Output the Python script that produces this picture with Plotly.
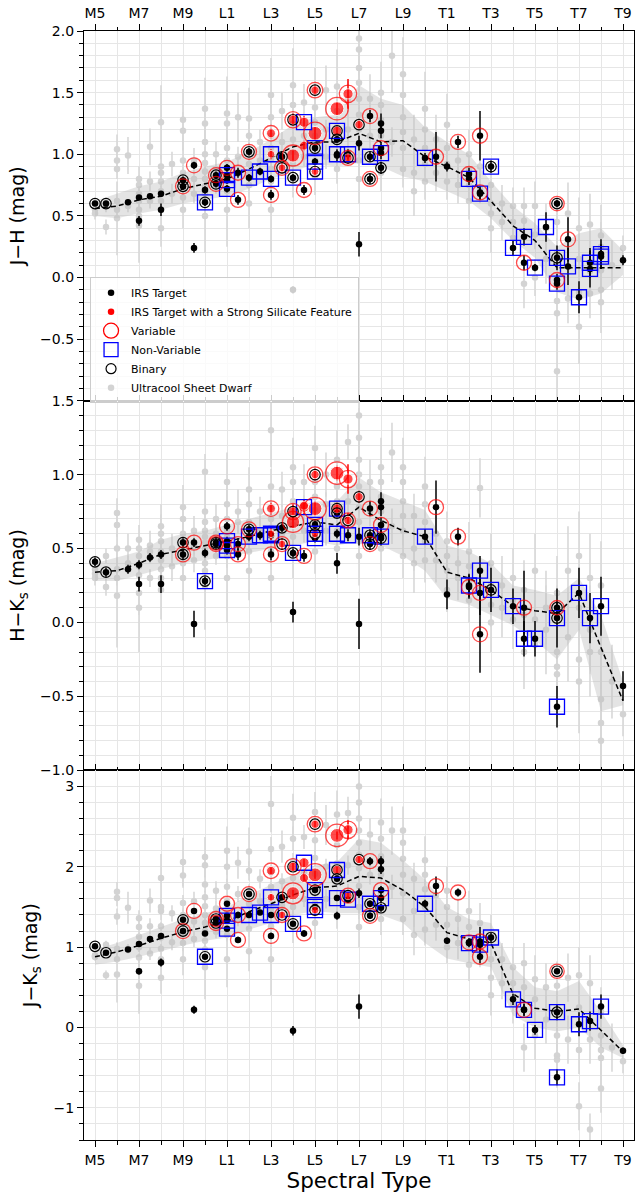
import numpy as np
import plotly.graph_objects as go
from plotly.subplots import make_subplots

# Numeric spectral types: M0 = 10, L0 = 20, T0 = 30
tick_names = {"15": "M5", "17": "M7", "19": "M9", "21": "L1", "23": "L3", "25": "L5",
              "27": "L7", "29": "L9", "31": "T1", "33": "T3", "35": "T5", "37": "T7", "39": "T9"}

# ---------------- Ultracool Sheet dwarfs ----------------
ucd_spt = ([15.0] * 3 + [15.5] * 2 + [16.0] * 6 + [16.5] * 2 + [17.0] * 7 + [17.5] * 3 +
           [18.0] * 8 + [18.5] * 2 + [19.0] * 7 + [19.5] * 3 + [20.0] * 11 + [20.5] * 3 +
           [21.0] * 8 + [21.5] * 3 + [22.0] * 7 + [22.5] * 2 + [23.0] * 8 + [23.5] * 3 +
           [24.0] * 7 + [24.5] * 3 + [25.0] * 7 + [25.5] * 3 + [26.0] * 6 + [26.5] * 3 +
           [27.0] * 10 + [27.5] * 2 + [28.0] * 6 + [28.5] * 2 + [29.0] * 6 + [29.5] * 3 +
           [30.0] * 5 + [30.5] * 2 + [31.0] * 4 + [31.5] * 2 + [32.0] * 4 + [32.5] * 2 +
           [33.0] * 4 + [33.5] * 2 + [34.0] * 3 + [34.5] * 3 + [35.0] * 3 + [35.5] * 2 +
           [36.0] * 5 + [36.5] * 2 + [37.0] * 4 + [37.5] * 3 + [38.0] * 5 + [38.5] * 1 + [39.0] * 1)

ucd_jh = [
    0.55, 0.60, 0.52,
    0.58, 0.41,
    0.55, 0.62, 0.95, 1.04, 0.48, 0.88,
    0.99, 0.58,
    0.55, 0.62, 0.68, 0.75, 0.80, 0.50, 0.42,
    1.06, 0.78, 0.62,
    1.26, 0.90, 0.78, 0.70, 0.62, 0.55, 0.40, 0.85,
    0.92, 0.68,
    1.28, 1.19, 0.95, 0.85, 0.72, 0.65, 0.55,
    0.95, 0.80, 0.68,
    1.37, 1.25, 1.10, 1.00, 0.93, 0.86, 0.80, 0.74, 0.68, 0.62, 0.50,
    1.00, 0.88, 0.74,
    1.33, 1.25, 1.05, 0.95, 0.88, 0.80, 0.70, 0.55,
    1.30, 0.98, 0.84,
    1.29, 1.15, 1.02, 0.92, 0.84, 0.75, 0.60,
    1.10, 0.95,
    1.48, 1.30, 1.15, 1.05, 0.96, 0.88, 0.78, 0.55,
    1.35, 1.10, 0.92,
    1.56, 1.40, 1.25, 1.12, 1.02, 0.92, 0.80,
    1.42, 1.15, 0.98,
    1.50, 1.38, 1.26, 1.15, 1.05, 0.95, 0.82,
    1.52, 1.20, 0.98,
    1.55, 1.35, 1.22, 1.10, 1.00, 0.88,
    1.45, 1.20, 1.02,
    1.94, 1.85, 1.70, 1.58, 1.45, 1.32, 1.20, 1.08, 0.95, 0.80,
    1.45, 1.15,
    1.50, 1.40, 1.28, 1.15, 1.02, 0.85,
    1.80, 1.10,
    1.65, 1.48, 1.30, 1.18, 1.05, 0.88,
    1.12, 0.85, 0.70,
    1.37, 1.20, 1.05, 0.92, 0.78,
    1.12, 0.85,
    1.24, 1.05, 0.92, 0.78,
    0.95, 0.75,
    1.00, 0.88, 0.75, 0.62,
    0.90, 0.72,
    0.75, 0.60, 0.52, 0.40,
    0.60, 0.45,
    0.58, 0.45, 0.32,
    0.58, 0.46, -0.05,
    0.58, 0.35, 0.00,
    0.40, 0.15,
    0.45, 0.20, -0.19, -0.29, -0.76,
    0.52, -0.17,
    0.40, 0.15, -0.12, -0.40,
    0.43, -0.13, 0.05,
    0.34, 0.06, -0.10, -0.20, 0.25,
    0.10,
    0.24,
]
ucd_jh_err = [
    0.03, 0.04, 0.05,
    0.05, 0.06,
    0.05, 0.06, 0.10, 0.12, 0.30, 0.08,
    0.15, 0.05,
    0.04, 0.05, 0.04, 0.08, 0.10, 0.10, 0.30,
    0.15, 0.08, 0.06,
    0.30, 0.10, 0.05, 0.04, 0.06, 0.06, 0.15, 0.06,
    0.10, 0.08,
    0.25, 0.15, 0.10, 0.06, 0.05, 0.08, 0.15,
    0.10, 0.06, 0.08,
    0.25, 0.12, 0.10, 0.06, 0.05, 0.05, 0.05, 0.06, 0.08, 0.10, 0.30,
    0.10, 0.08, 0.06,
    0.30, 0.20, 0.08, 0.06, 0.05, 0.05, 0.08, 0.30,
    0.20, 0.08, 0.06,
    0.25, 0.10, 0.06, 0.05, 0.06, 0.10, 0.20,
    0.10, 0.08,
    0.30, 0.15, 0.10, 0.06, 0.05, 0.06, 0.10, 0.35,
    0.15, 0.08, 0.08,
    0.30, 0.15, 0.08, 0.06, 0.05, 0.08, 0.15,
    0.15, 0.08, 0.08,
    0.20, 0.12, 0.08, 0.06, 0.06, 0.08, 0.15,
    0.20, 0.08, 0.10,
    0.30, 0.12, 0.08, 0.06, 0.08, 0.12,
    0.15, 0.10, 0.10,
    0.35, 0.20, 0.15, 0.10, 0.08, 0.06, 0.06, 0.08, 0.12, 0.20,
    0.20, 0.10,
    0.25, 0.12, 0.08, 0.08, 0.10, 0.15,
    0.30, 0.12,
    0.30, 0.15, 0.10, 0.08, 0.10, 0.15,
    0.20, 0.15, 0.20,
    0.30, 0.15, 0.10, 0.10, 0.15,
    0.20, 0.15,
    0.25, 0.15, 0.10, 0.15,
    0.20, 0.15,
    0.20, 0.12, 0.10, 0.15,
    0.20, 0.12,
    0.20, 0.10, 0.12, 0.20,
    0.15, 0.15,
    0.15, 0.10, 0.15,
    0.15, 0.12, 0.20,
    0.20, 0.12, 0.15,
    0.20, 0.20,
    0.20, 0.12, 0.15, 0.20, 0.30,
    0.25, 0.20,
    0.25, 0.15, 0.20, 0.30,
    0.25, 0.20, 0.20,
    0.25, 0.15, 0.20, 0.25, 0.20,
    0.20,
    0.10,
]
ucd_hk = [
    0.33, 0.30, 0.36,
    0.45, 0.24,
    0.30, 0.36, 0.66, 0.74, 0.18, 0.50,
    0.50, 0.40,
    0.32, 0.38, 0.45, 0.50, 0.56, 0.20, 0.10,
    0.52, 0.48, 0.30,
    0.60, 0.55, 0.48, 0.42, 0.36, 0.30, 0.22, 0.65,
    0.50, 0.38,
    0.78, 0.70, 0.60, 0.55, 0.45, 0.40, 0.30,
    0.62, 0.52, 0.42,
    0.75, 1.02, 0.68, 0.62, 0.58, 0.54, 0.50, 0.46, 0.40, 0.35, 0.25,
    0.70, 0.60, 0.45,
    0.95, 0.80, 0.70, 0.62, 0.58, 0.52, 0.45, 0.30,
    0.75, 0.68, 0.50,
    0.90, 0.80, 0.68, 0.62, 0.55, 0.48, 0.35,
    0.75, 0.62,
    1.30, 0.92, 0.78, 0.70, 0.64, 0.58, 0.48, 0.30,
    0.90, 0.72, 0.60,
    1.05, 0.95, 0.82, 0.74, 0.66, 0.58, 0.45,
    0.95, 0.78, 0.62,
    1.18, 0.95, 0.85, 0.76, 0.68, 0.60, 0.48,
    1.00, 0.80, 0.62,
    1.10, 0.92, 0.82, 0.72, 0.62, 0.50,
    1.22, 0.82, 0.65,
    1.40, 1.25, 1.10, 1.00, 0.92, 0.85, 0.78, 0.68, 0.55, 0.45,
    0.95, 0.75,
    1.05, 0.95, 0.85, 0.75, 0.65, 0.50,
    1.15, 0.65,
    1.05, 0.95, 0.82, 0.72, 0.62, 0.45,
    0.72, 0.50, 0.40,
    0.92, 0.80, 0.68, 0.55, 0.42,
    0.60, 0.42,
    0.55, 0.45, 0.35, 0.22,
    0.40, 0.30,
    0.48, 0.38, 0.28, 0.15,
    0.91, 0.22,
    0.40, 0.25, 0.12, 0.00,
    0.25, 0.10,
    0.30, 0.15, 0.02,
    0.22, 0.05, -0.20,
    0.35, 0.02, -0.15,
    0.10, -0.05,
    0.20, 0.05, -0.20, -0.35, -0.30,
    0.35, -0.10,
    0.45, 0.10, -0.25, -0.40,
    0.30, -0.05, -0.20,
    0.25, -0.20, -0.52, -0.68, -0.80,
    -0.40,
    -0.62,
]
ucd_hk_err = [
    0.03, 0.05, 0.05,
    0.05, 0.06,
    0.05, 0.06, 0.08, 0.10, 0.35, 0.10,
    0.10, 0.05,
    0.05, 0.05, 0.05, 0.08, 0.10, 0.15, 0.30,
    0.10, 0.08, 0.06,
    0.20, 0.10, 0.05, 0.05, 0.06, 0.08, 0.20, 0.08,
    0.10, 0.10,
    0.15, 0.10, 0.08, 0.06, 0.05, 0.08, 0.15,
    0.10, 0.06, 0.08,
    0.15, 0.12, 0.08, 0.06, 0.05, 0.05, 0.05, 0.06, 0.08, 0.10, 0.30,
    0.10, 0.08, 0.06,
    0.20, 0.15, 0.08, 0.06, 0.05, 0.05, 0.08, 0.30,
    0.15, 0.08, 0.06,
    0.15, 0.10, 0.06, 0.05, 0.06, 0.10, 0.20,
    0.10, 0.08,
    0.25, 0.12, 0.08, 0.06, 0.05, 0.06, 0.10, 0.30,
    0.12, 0.08, 0.08,
    0.20, 0.12, 0.08, 0.06, 0.05, 0.08, 0.15,
    0.12, 0.08, 0.08,
    0.15, 0.10, 0.08, 0.06, 0.06, 0.08, 0.15,
    0.15, 0.08, 0.10,
    0.20, 0.10, 0.08, 0.06, 0.08, 0.12,
    0.12, 0.10, 0.10,
    0.25, 0.20, 0.12, 0.10, 0.08, 0.06, 0.06, 0.08, 0.12, 0.20,
    0.15, 0.10,
    0.20, 0.10, 0.08, 0.08, 0.10, 0.15,
    0.20, 0.12,
    0.20, 0.12, 0.10, 0.08, 0.10, 0.15,
    0.15, 0.15, 0.20,
    0.20, 0.12, 0.10, 0.10, 0.15,
    0.15, 0.15,
    0.20, 0.12, 0.10, 0.15,
    0.20, 0.15,
    0.20, 0.10, 0.10, 0.15,
    0.20, 0.15,
    0.20, 0.12, 0.15, 0.20,
    0.20, 0.20,
    0.20, 0.15, 0.20,
    0.20, 0.20, 0.25,
    0.25, 0.20, 0.25,
    0.25, 0.30,
    0.25, 0.20, 0.25, 0.30, 0.35,
    0.30, 0.30,
    0.30, 0.25, 0.30, 0.35,
    0.30, 0.30, 0.30,
    0.30, 0.25, 0.30, 0.35, 0.30,
    0.25,
    0.15,
]
ucd_jk = [
    0.88, 0.90, 0.88,
    1.03, 0.65,
    0.85, 0.98, 1.61, 1.69, 0.66, 1.38,
    1.49, 0.98,
    0.87, 1.00, 1.13, 1.25, 1.36, 0.70, 0.52,
    1.58, 1.26, 0.92,
    1.86, 1.45, 1.26, 1.12, 0.98, 0.85, 0.62, 1.50,
    1.42, 1.06,
    2.06, 1.89, 1.55, 1.40, 1.17, 1.05, 0.85,
    1.57, 1.32, 1.10,
    2.12, 2.02, 1.78, 1.62, 1.51, 1.40, 1.30, 1.20, 1.08, 0.97, 0.75,
    1.70, 1.48, 1.19,
    2.20, 2.00, 1.75, 1.57, 1.46, 1.32, 1.15, 0.85,
    2.05, 1.66, 1.34,
    2.19, 1.95, 1.70, 1.54, 1.39, 1.23, 0.95,
    1.85, 1.57,
    2.78, 2.22, 1.93, 1.75, 1.60, 1.46, 1.26, 0.85,
    2.25, 1.82, 1.52,
    2.61, 2.35, 2.07, 1.86, 1.68, 1.50, 1.25,
    2.37, 1.93, 1.60,
    2.68, 2.33, 2.11, 1.91, 1.73, 1.55, 1.30,
    2.52, 2.00, 1.60,
    2.65, 2.27, 2.04, 1.82, 1.62, 1.38,
    2.67, 2.02, 1.67,
    3.00, 2.80, 2.60, 2.45, 2.30, 2.15, 1.98, 1.76, 1.50, 1.25,
    2.40, 1.90,
    2.55, 2.35, 2.13, 1.90, 1.67, 1.35,
    2.45, 1.75,
    2.45, 2.30, 2.10, 1.90, 1.67, 1.35,
    1.85, 1.45, 1.15,
    2.08, 1.90, 1.72, 1.50, 1.22,
    1.65, 1.28,
    1.70, 1.50, 1.28, 1.00,
    1.35, 1.05,
    1.45, 1.25, 1.02, 0.78,
    1.30, 0.95,
    1.15, 0.85, 0.62, 0.40,
    0.85, 0.55,
    0.75, 0.55, 0.30,
    0.80, 0.50, -0.25,
    0.60, 0.35, -0.10,
    0.50, 0.10,
    0.52, 0.22, -0.35, -0.40, -0.10,
    0.62, -0.15,
    0.65, 0.25, -0.28, -0.98,
    0.55, -0.15, -1.27,
    0.20, -0.28, -0.38, -0.76, -0.10,
    -0.25,
    -0.42,
]
ucd_jk_err = [
    0.03, 0.04, 0.05,
    0.05, 0.06,
    0.05, 0.08, 0.10, 0.12, 0.35, 0.10,
    0.20, 0.06,
    0.05, 0.06, 0.05, 0.10, 0.10, 0.20, 0.35,
    0.15, 0.10, 0.08,
    0.30, 0.12, 0.06, 0.05, 0.06, 0.08, 0.20, 0.10,
    0.10, 0.10,
    0.30, 0.15, 0.10, 0.08, 0.06, 0.10, 0.20,
    0.12, 0.08, 0.10,
    0.25, 0.15, 0.10, 0.08, 0.06, 0.06, 0.05, 0.06, 0.08, 0.10, 0.40,
    0.12, 0.10, 0.08,
    0.30, 0.20, 0.10, 0.06, 0.05, 0.05, 0.08, 0.35,
    0.20, 0.10, 0.08,
    0.30, 0.12, 0.08, 0.06, 0.06, 0.10, 0.25,
    0.12, 0.10,
    0.35, 0.15, 0.10, 0.08, 0.06, 0.06, 0.12, 0.45,
    0.20, 0.10, 0.10,
    0.30, 0.15, 0.10, 0.06, 0.06, 0.10, 0.20,
    0.15, 0.10, 0.10,
    0.25, 0.15, 0.10, 0.06, 0.08, 0.10, 0.20,
    0.25, 0.10, 0.12,
    0.30, 0.15, 0.10, 0.08, 0.10, 0.15,
    0.20, 0.12, 0.12,
    0.40, 0.25, 0.20, 0.12, 0.10, 0.08, 0.08, 0.10, 0.15, 0.25,
    0.20, 0.12,
    0.30, 0.15, 0.10, 0.10, 0.12, 0.20,
    0.30, 0.15,
    0.30, 0.15, 0.12, 0.10, 0.12, 0.20,
    0.20, 0.20, 0.25,
    0.30, 0.15, 0.12, 0.12, 0.20,
    0.20, 0.20,
    0.30, 0.20, 0.15, 0.20,
    0.25, 0.20,
    0.25, 0.15, 0.12, 0.20,
    0.25, 0.20,
    0.25, 0.15, 0.20, 0.25,
    0.20, 0.20,
    0.25, 0.20, 0.25,
    0.25, 0.25, 0.30,
    0.30, 0.25, 0.30,
    0.30, 0.30,
    0.30, 0.25, 0.30, 0.35, 0.30,
    0.30, 0.30,
    0.35, 0.30, 0.30, 0.30,
    0.35, 0.30, 0.20,
    0.30, 0.30, 0.35, 0.30, 0.30,
    0.30,
    0.15,
]

# ---------------- median sequence and scatter band ----------------
seq_spt = list(range(15, 40))
seq_jh = [0.56, 0.58, 0.63, 0.66, 0.72, 0.76, 0.80, 0.88, 0.97, 1.06, 1.10, 1.10, 1.17, 1.10, 1.11,
          0.98, 0.90, 0.81, 0.62, 0.42, 0.30, 0.08, 0.08, 0.08, 0.08]
seq_jh_lo = [0.50, 0.48, 0.52, 0.55, 0.60, 0.63, 0.66, 0.72, 0.80, 0.86, 0.92, 0.90, 0.93, 0.90, 0.82,
             0.78, 0.70, 0.62, 0.48, 0.30, 0.16, -0.12, -0.18, -0.13, 0.02]
seq_jh_hi = [0.62, 0.68, 0.74, 0.78, 0.85, 0.90, 0.94, 1.02, 1.12, 1.24, 1.30, 1.32, 1.56, 1.45, 1.40,
             1.22, 1.10, 1.00, 0.78, 0.58, 0.44, 0.25, 0.36, 0.40, 0.22]
seq_hk = [0.34, 0.35, 0.40, 0.46, 0.49, 0.52, 0.55, 0.58, 0.62, 0.65, 0.68, 0.66, 0.78, 0.69, 0.62,
          0.58, 0.34, 0.30, 0.22, 0.11, 0.08, 0.06, 0.20, -0.17, -0.53]
seq_hk_lo = [0.28, 0.28, 0.32, 0.36, 0.40, 0.42, 0.45, 0.47, 0.50, 0.52, 0.55, 0.52, 0.55, 0.52, 0.45,
             0.35, 0.16, 0.12, 0.05, -0.02, -0.12, -0.25, -0.05, -0.60, -0.56]
seq_hk_hi = [0.40, 0.44, 0.48, 0.56, 0.60, 0.62, 0.66, 0.70, 0.74, 0.78, 0.82, 0.82, 0.98, 0.88, 0.82,
             0.76, 0.52, 0.48, 0.40, 0.25, 0.22, 0.18, 0.30, 0.05, -0.40]
seq_jk = [0.88, 0.94, 1.02, 1.11, 1.19, 1.25, 1.32, 1.44, 1.54, 1.65, 1.74, 1.76, 1.88, 1.86, 1.71,
          1.50, 1.18, 1.10, 1.05, 0.42, 0.24, 0.20, 0.23, -0.04, -0.30]
seq_jk_lo = [0.78, 0.82, 0.88, 0.95, 1.02, 1.08, 1.12, 1.22, 1.30, 1.40, 1.45, 1.42, 1.42, 1.40, 1.30,
             1.05, 0.86, 0.80, 0.75, 0.15, 0.00, -0.05, 0.00, -0.25, -0.38]
seq_jk_hi = [0.97, 1.05, 1.15, 1.25, 1.35, 1.42, 1.50, 1.65, 1.78, 1.90, 2.02, 2.06, 2.35, 2.30, 2.08,
             1.84, 1.50, 1.35, 1.30, 0.75, 0.50, 0.45, 0.58, 0.20, -0.22]

# ---------------- IRS targets ----------------
nan = float("nan")
irs_spt = [15, 15.5, 16.5, 17, 17, 17.5, 18, 18, 19, 19, 19.5, 19.5, 20, 20, 20.5, 20.5,
           21, 21, 21, 21, 21.5, 21.5, 22, 22, 22.5, 23, 23, 23, 23, 23.5, 23.5,
           24, 24, 24, 24, 24.5, 24.5, 24.5, 25, 25, 25, 25, 25, 26, 26, 26, 26, 26,
           26.5, 26.5, 26.5, 27, 27, 27, 27.5, 27.5, 27.5, 28, 28, 28, 28, 28,
           30, 30.5, 31, 31.5, 32, 32, 32.5, 32.5, 32.5, 33, 34, 34.5, 34.5, 35, 35.5,
           36, 36, 36, 36, 36.5, 36.5, 37, 37.5, 37.5, 38, 38, 39]
irs_jh = [0.60, 0.60, 0.61, 0.65, 0.46, 0.66, 0.68, 0.55, 0.79, 0.74, 0.91, 0.24, 0.61, 0.71, 0.83, 0.76,
          0.89, 0.83, 0.79, 0.72, 0.85, 0.63, 1.02, 0.81, 0.86, 1.17, 1.00, 0.80, 0.67, 0.98, 0.89,
          1.28, 0.99, 0.81, -0.10, 1.26, 1.07, 0.71, 1.52, 1.17, 1.05, 0.94, 0.86, 1.37, 1.19, 1.12, 1.00, 0.99,
          1.49, 0.97, 1.00, 1.24, 1.09, 0.27, 1.31, 0.98, 0.80, 1.25, 1.19, 1.05, 1.01, 0.89,
          0.97, 0.98, 0.90, 1.10, 0.84, 0.80, 1.15, 0.68, 0.69, 0.90, 0.24, 0.33, 0.12, 0.08, 0.41,
          0.60, 0.16, -0.05, -0.02, 0.31, 0.09, -0.16, 0.12, 0.07, 0.17, 0.19, 0.14]
irs_jh_err = [0.02, 0.02, 0.02, 0.02, 0.04, 0.02, 0.02, 0.05, 0.03, 0.03, 0.03, 0.04, 0.03, 0.03, 0.03, 0.03,
              0.03, 0.03, 0.03, 0.03, 0.04, 0.04, 0.03, 0.03, 0.03, 0.04, 0.04, 0.03, 0.04, 0.03, 0.04,
              0.05, 0.04, 0.03, 0.03, 0.05, 0.04, 0.04, 0.04, 0.05, 0.03, 0.03, 0.04, 0.05, 0.04, 0.03, 0.03, 0.05,
              0.12, 0.05, 0.04, 0.04, 0.06, 0.10, 0.05, 0.04, 0.04, 0.08, 0.06, 0.05, 0.05, 0.05,
              0.04, 0.20, 0.04, 0.05, 0.05, 0.05, 0.20, 0.05, 0.05, 0.05, 0.06, 0.07, 0.06, 0.03, 0.12,
              0.03, 0.10, 0.05, 0.05, 0.18, 0.15, 0.13, 0.12, 0.15, 0.10, 0.12, 0.04]
irs_hk = [0.41, 0.34, 0.36, 0.39, 0.26, 0.44, 0.46, 0.26, 0.54, 0.46, 0.54, -0.01, 0.28, 0.47, 0.53, 0.54,
          0.65, 0.55, 0.52, 0.49, 0.53, 0.46, 0.63, 0.58, 0.59, 0.77, 0.60, 0.59, 0.46, 0.64, 0.53,
          0.75, 0.68, 0.47, 0.07, 0.78, 0.79, 0.45, 1.00, 0.77, 0.66, 0.57, 0.60, 1.01, 0.77, 0.74, 0.60, 0.40,
          0.97, 0.69, 0.59, 0.85, 0.58, -0.01, 0.77, 0.59, 0.53, 0.82, 0.78, 0.66, 0.58, 0.57,
          0.58, 0.78, 0.19, 0.58, 0.24, 0.25, -0.08, 0.35, 0.20, 0.22, 0.11, -0.11, 0.10, -0.11, nan,
          0.10, 0.03, -0.57, nan, nan, nan, 0.20, nan, 0.03, 0.11, nan, -0.43]
irs_hk_err = [0.03, 0.03, 0.03, 0.03, 0.05, 0.03, 0.03, 0.06, 0.03, 0.03, 0.03, 0.09, 0.03, 0.03, 0.03, 0.03,
              0.03, 0.03, 0.03, 0.03, 0.04, 0.04, 0.03, 0.03, 0.03, 0.04, 0.04, 0.03, 0.04, 0.03, 0.04,
              0.05, 0.04, 0.03, 0.07, 0.05, 0.04, 0.04, 0.04, 0.05, 0.03, 0.03, 0.04, 0.05, 0.04, 0.03, 0.03, 0.07,
              0.10, 0.05, 0.04, 0.04, 0.06, 0.17, 0.05, 0.04, 0.04, 0.06, 0.06, 0.05, 0.05, 0.05,
              0.05, 0.18, 0.10, 0.06, 0.08, 0.08, 0.26, 0.10, 0.15, 0.15, 0.12, 0.12, 0.25, 0.12, nan,
              0.04, 0.20, 0.14, nan, nan, nan, 0.17, nan, 0.17, 0.20, nan, 0.10]
irs_jk = [1.01, 0.93, 0.97, 1.04, 0.70, 1.10, 1.14, 0.81, 1.34, 1.20, 1.45, 0.22, 0.88, 1.17, 1.35, 1.30,
          1.54, 1.39, 1.33, 1.23, 1.40, 1.09, 1.66, 1.40, 1.43, 1.95, 1.62, 1.40, 1.14, 1.62, 1.40,
          2.00, 1.67, 1.29, -0.04, 2.05, 1.86, 1.17, 2.53, 1.90, 1.71, 1.50, 1.46, 2.39, 1.96, 1.85, 1.61, 1.39,
          2.46, 1.64, 1.59, 2.09, 1.67, 0.26, 2.07, 1.54, 1.39, 2.07, 1.97, 1.71, 1.61, 1.49,
          1.54, 1.76, 1.08, 1.68, 1.06, 1.05, 1.07, 1.03, 0.88, 1.12, 0.35, 0.22, 0.22, -0.03, nan,
          0.70, 0.19, -0.62, nan, nan, nan, 0.04, nan, 0.08, 0.26, nan, -0.29]
irs_jk_err = [0.03, 0.03, 0.03, 0.03, 0.04, 0.03, 0.03, 0.05, 0.03, 0.03, 0.03, 0.05, 0.03, 0.03, 0.03, 0.03,
              0.03, 0.03, 0.03, 0.03, 0.04, 0.04, 0.03, 0.03, 0.03, 0.04, 0.04, 0.03, 0.04, 0.03, 0.04,
              0.05, 0.04, 0.03, 0.06, 0.05, 0.04, 0.04, 0.04, 0.05, 0.03, 0.03, 0.04, 0.05, 0.04, 0.03, 0.03, 0.05,
              0.12, 0.05, 0.04, 0.04, 0.06, 0.15, 0.05, 0.04, 0.04, 0.06, 0.06, 0.05, 0.05, 0.05,
              0.05, 0.12, 0.04, 0.05, 0.05, 0.05, 0.18, 0.06, 0.08, 0.06, 0.07, 0.07, 0.08, 0.06, nan,
              0.03, 0.10, 0.10, nan, nan, nan, 0.15, nan, 0.12, 0.15, nan, 0.04]
# depth of the 10 micron silicate feature (0 = no strong feature)
irs_silicate = [0, 0, 0, 0, 0, 0, 0, 0, 0, 0, 0, 0, 0, 0, 0, 0,
                0, 0, 0, 0, 0, 0, 0, 0, 0, 0.25, 0.15, 0, 0, 0, 0.15,
                0.3, 0.6, 0, 0, 0.35, 0.25, 0, 0.2, 0.65, 0, 0, 0.15, 0.65, 0.3, 0, 0, 0,
                0.35, 0.2, 0, 0.2, 0, 0, 0, 0, 0, 0, 0, 0, 0, 0,
                0, 0, 0, 0, 0, 0, 0, 0, 0, 0, 0, 0, 0, 0, 0,
                0, 0, 0, 0, 0, 0, 0, 0, 0, 0, 0, 0]
# variability amplitude in percent (0 = not found variable)
irs_var_amp = [0, 0, 0, 0, 0, 0, 0, 0, 0, 1.0, 1.0, 0, 0, 0, 1.0, 1.0,
               1.0, 0, 0, 0, 1.0, 1.0, 1.0, 0, 0, 1.2, 0, 0, 1.0, 0, 1.0,
               1.4, 3.0, 0, 0, 0, 0, 1.0, 1.2, 3.5, 0, 0, 0, 3.5, 0, 0, 0, 0,
               1.8, 1.0, 0, 0, 0, 0, 1.0, 0, 1.0, 0, 0, 1.0, 0, 0,
               0, 1.0, 0, 1.0, 1.0, 0, 1.0, 0, 1.0, 0, 0, 0, 1.0, 0, 0,
               0.8, 0, 0, 1.0, 1.0, 0, 0, 0, 0, 0, 0, 0]
irs_nonvariable = [0, 0, 0, 0, 0, 0, 0, 0, 0, 0, 0, 0, 1, 0, 0, 0,
                   0, 1, 1, 1, 0, 0, 0, 1, 1, 0, 1, 1, 0, 0, 0,
                   0, 0, 1, 0, 1, 0, 0, 0, 0, 1, 1, 1, 0, 1, 0, 1, 0,
                   0, 0, 1, 0, 0, 0, 0, 1, 0, 0, 0, 0, 1, 0,
                   1, 0, 0, 0, 0, 1, 0, 1, 0, 1, 1, 1, 0, 1, 1,
                   0, 1, 1, 0, 0, 1, 1, 1, 1, 1, 1, 0]
irs_binary = [1, 1, 0, 0, 0, 0, 0, 0, 1, 1, 0, 0, 1, 0, 1, 1,
              0, 0, 0, 0, 0, 0, 1, 0, 0, 0, 0, 0, 0, 1, 1,
              1, 0, 1, 0, 0, 0, 0, 1, 0, 1, 0, 1, 0, 1, 1, 0, 0,
              0, 1, 0, 1, 0, 0, 0, 1, 1, 0, 0, 0, 0, 1,
              0, 0, 0, 0, 0, 0, 0, 0, 0, 1, 0, 0, 0, 0, 0,
              1, 1, 0, 0, 0, 0, 0, 0, 0, 0, 0, 0]

# ---------------- figure ----------------
FONT = "DejaVu Sans"
GRID = "#e6e6e6"
fig = make_subplots(rows=3, cols=1, shared_xaxes=True, vertical_spacing=0)

spt = np.array(irs_spt, float)
sil = np.array(irs_silicate, float)
amp = np.array(irs_var_amp, float)
nonvar = np.array(irs_nonvariable, bool)
binary = np.array(irs_binary, bool)

panels = [
    (ucd_jh, ucd_jh_err, seq_jh, seq_jh_lo, seq_jh_hi, irs_jh, irs_jh_err),
    (ucd_hk, ucd_hk_err, seq_hk, seq_hk_lo, seq_hk_hi, irs_hk, irs_hk_err),
    (ucd_jk, ucd_jk_err, seq_jk, seq_jk_lo, seq_jk_hi, irs_jk, irs_jk_err),
]

for row, (uy, ue, med, lo, hi, ty, te) in enumerate(panels, start=1):
    fig.add_trace(go.Scatter(
        x=ucd_spt, y=uy, mode="markers",
        marker=dict(size=6.5, color="#d3d3d3"),
        error_y=dict(type="data", array=ue, color="#d8d8d8", thickness=1.6, width=0),
        showlegend=False, hoverinfo="skip"), row=row, col=1)
    fig.add_trace(go.Scatter(
        x=seq_spt + seq_spt[::-1], y=hi + lo[::-1], mode="lines", fill="toself",
        fillcolor="rgba(190,190,190,0.42)", line=dict(width=0),
        showlegend=False, hoverinfo="skip"), row=row, col=1)
    fig.add_trace(go.Scatter(
        x=seq_spt, y=med, mode="lines",
        line=dict(color="black", width=1.5, dash="5px,3px"),
        showlegend=False, hoverinfo="skip"), row=row, col=1)

    y = np.array(ty, float)
    e = np.array(te, float)
    ok = ~np.isnan(y)
    plain = ok & (sil == 0)
    silm = ok & (sil > 0)
    varm = ok & (amp > 0)
    nvm = ok & nonvar
    bm = ok & binary

    fig.add_trace(go.Scatter(
        x=spt[plain], y=y[plain], mode="markers",
        marker=dict(size=6.5, color="black"),
        error_y=dict(type="data", array=e[plain], color="black", thickness=1.5, width=0),
        showlegend=False, hoverinfo="skip"), row=row, col=1)
    fig.add_trace(go.Scatter(
        x=spt[silm], y=y[silm], mode="markers",
        marker=dict(size=6 + 12 * sil[silm], color="red"),
        error_y=dict(type="data", array=e[silm], color="red", thickness=1.5, width=0),
        showlegend=False, hoverinfo="skip"), row=row, col=1)
    fig.add_trace(go.Scatter(
        x=spt[nvm], y=y[nvm], mode="markers",
        marker=dict(symbol="square-open", size=15, color="blue", line=dict(width=1.3)),
        showlegend=False, hoverinfo="skip"), row=row, col=1)
    fig.add_trace(go.Scatter(
        x=spt[bm], y=y[bm], mode="markers",
        marker=dict(symbol="circle-open", size=10.5, color="black", line=dict(width=1.2)),
        showlegend=False, hoverinfo="skip"), row=row, col=1)
    fig.add_trace(go.Scatter(
        x=spt[varm], y=y[varm], mode="markers",
        marker=dict(symbol="circle-open", size=12 + 3 * amp[varm], color="red", line=dict(width=1.3)),
        showlegend=False, hoverinfo="skip"), row=row, col=1)

# legend entries
legend_items = [
    ("IRS Target", dict(symbol="circle", size=6.5, color="black")),
    ("IRS Target with a Strong Silicate Feature", dict(symbol="circle", size=6.5, color="red")),
    ("Variable", dict(symbol="circle-open", size=15, color="red", line=dict(width=1.3))),
    ("Non-Variable", dict(symbol="square-open", size=14, color="blue", line=dict(width=1.3))),
    ("Binary", dict(symbol="circle-open", size=10, color="black", line=dict(width=1.2))),
    ("Ultracool Sheet Dwarf", dict(symbol="circle", size=6.5, color="#d3d3d3")),
]
for name, mk in legend_items:
    fig.add_trace(go.Scatter(x=[None], y=[None], mode="markers", marker=mk, name=name,
                             showlegend=True, hoverinfo="skip"), row=1, col=1)

tickfont = dict(size=14, color="black", family=FONT)


def x_style(direction):
    return dict(
        range=[14.5, 39.5], tickmode="linear", tick0=15, dtick=2, labelalias=tick_names,
        ticks=direction, ticklen=6, tickwidth=1, tickcolor="black",
        minor=dict(tickmode="linear", tick0=15, dtick=1, ticks=direction, ticklen=3.5,
                   tickwidth=1, tickcolor="black", showgrid=True, gridcolor=GRID, gridwidth=1),
        showgrid=True, gridcolor=GRID, gridwidth=1, zeroline=False,
        showline=True, linecolor="black", linewidth=1.2, mirror=True,
        tickfont=tickfont, automargin=False)


fig.update_xaxes(**x_style("inside"), row=1, col=1)
fig.update_xaxes(**x_style("inside"), row=2, col=1)
fig.update_xaxes(**x_style("outside"), row=3, col=1)
fig.update_xaxes(title=dict(text="Spectral Type", font=dict(size=21.5, family=FONT, color="black"),
                            standoff=5), ticklabelstandoff=1, row=3, col=1)

y_specs = [
    dict(range=[-0.999, 2.0], dtick=0.5, minor_dtick=0.1, fmt=".1f", title="J−H (mag)"),
    dict(range=[-1.0, 1.5], dtick=0.5, minor_dtick=0.1, fmt=".1f", title="H−K<sub>s</sub> (mag)"),
    dict(range=[-1.4, 3.2], dtick=1.0, minor_dtick=0.2, fmt="d", title="J−K<sub>s</sub> (mag)"),
]
for row, s in enumerate(y_specs, start=1):
    fig.update_yaxes(
        range=s["range"], tickmode="linear", tick0=0, dtick=s["dtick"], tickformat=s["fmt"],
        ticks="outside", ticklen=6, tickwidth=1, tickcolor="black",
        minor=dict(tickmode="linear", tick0=0, dtick=s["minor_dtick"], ticks="outside", ticklen=3.5,
                   tickwidth=1, tickcolor="black", showgrid=True, gridcolor=GRID, gridwidth=1),
        showgrid=True, gridcolor=GRID, gridwidth=1, zeroline=False,
        showline=True, linecolor="black", linewidth=1.2, mirror=True,
        tickfont=tickfont, automargin=False,
        title=dict(text=s["title"], font=dict(size=19, family=FONT, color="black"), standoff=10),
        row=row, col=1)

# spectral type labels along the top of the upper panel
top_axis = x_style("outside")
top_axis.update(overlaying="x", anchor="y", side="top", showgrid=False, showline=False, mirror=False)
top_axis["minor"] = dict(tickmode="linear", tick0=15, dtick=1, ticks="outside", ticklen=3.5,
                         tickwidth=1, tickcolor="black", showgrid=False)
fig.add_trace(go.Scatter(x=[None], y=[None], xaxis="x4", yaxis="y", showlegend=False, hoverinfo="skip"))

fig.update_layout(
    xaxis4=top_axis,
    width=635, height=1198,
    margin=dict(l=84, r=1, t=31, b=58),
    template="none",
    paper_bgcolor="white", plot_bgcolor="white",
    font=dict(family=FONT, color="black"),
    hovermode=False,
    legend=dict(x=0.011, y=0.778, xanchor="left", yanchor="top",
                bgcolor="rgba(255,255,255,0.8)", bordercolor="#cccccc", borderwidth=1,
                font=dict(size=11, family=FONT, color="black"), itemsizing="trace",
                tracegroupgap=0),
)

fig.write_html("out.html")
